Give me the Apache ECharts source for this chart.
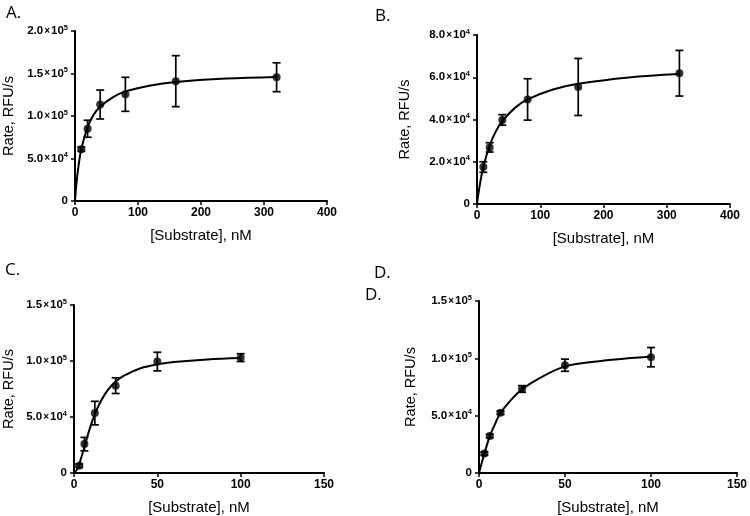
<!DOCTYPE html>
<html>
<head>
<meta charset="utf-8">
<script src="https://cdn.jsdelivr.net/npm/echarts@6/dist/echarts.min.js"></script>
<style>
html,body{margin:0;padding:0;background:#fff;}
#chart{width:750px;height:516px;}
</style>
</head>
<body>
<div id="chart"></div>
<script>
// ---- data ----
var panelLabels = ['A.', 'B.', 'C.', 'D.'];
var xTitle = '[Substrate], nM';
var yTitle = 'Rate, RFU/s';

var xA = [10, 20, 40, 80, 160, 320];
var yA = [61000, 85000, 113500, 125500, 141000, 145600];
var errA = [2500, 10000, 17000, 20000, 30000, 17000];
var curveXA = [0, 2, 5, 10, 20, 30, 40, 60, 80, 120, 160, 240, 320];
var curveYA = [0, 18000, 38000, 61000, 87000, 102000, 111000, 122000, 129000, 136000, 140000, 144000, 146000];

var xB = [10, 20, 40, 80, 160, 320];
var yB = [17500, 26800, 39800, 49500, 55400, 61900];
var errB = [2500, 2200, 2500, 9800, 13500, 10800];
var curveXB = [0, 2, 5, 10, 20, 30, 40, 60, 80, 120, 160, 240, 320];
var curveYB = [0, 4400, 10000, 17500, 27700, 34500, 39200, 45500, 49500, 54200, 56900, 59900, 61500];

var xC = [3.125, 6.25, 12.5, 25, 50, 100];
var yC = [6500, 25800, 53500, 78000, 99500, 103000];
var errC = [1500, 6000, 10500, 7000, 8300, 3500];
var curveXC = [0, 2, 4, 6, 8, 10, 12.5, 15, 20, 25, 30, 40, 50, 60, 80, 100];
var curveYC = [0, 3700, 12000, 22100, 32500, 42100, 52500, 61000, 73500, 81600, 87000, 93500, 97000, 99100, 101400, 102600];

var xD = [3.125, 6.25, 12.5, 25, 50, 100];
var yD = [16900, 32300, 52600, 73300, 94000, 101000];
var errD = [1500, 1500, 1500, 2900, 5300, 8400];
var curveXD = [0, 3.125, 6.25, 10, 12.5, 20, 25, 35, 50, 70, 100];
var curveYD = [0, 17000, 32000, 45000, 52500, 66000, 73000, 82500, 93000, 97500, 101500];

var xTicksAB = [0, 100, 200, 300, 400];
var xTicksCD = [0, 50, 100, 150];
var yTicksA = [0, 50000, 100000, 150000, 200000];
var yTickLabelsA = ['0', '5.0×10^4', '1.0×10^5', '1.5×10^5', '2.0×10^5'];
var yTicksB = [0, 20000, 40000, 60000, 80000];
var yTickLabelsB = ['0', '2.0×10^4', '4.0×10^4', '6.0×10^4', '8.0×10^4'];
var yTicksCD = [0, 50000, 100000, 150000];
var yTickLabelsCD = ['0', '5.0×10^4', '1.0×10^5', '1.5×10^5'];

// ---- build ----
function zip(a, b) { return a.map(function (v, i) { return [v, b[i]]; }); }
function richLabel(ticks, labels) {
  return function (v) {
    var i = ticks.indexOf(v);
    if (i < 0) return '';
    var s = labels[i].split('^');
    if (s.length === 1) return '{m|' + s[0] + '}';
    var p = s[0].split('×');
    return '{m|' + p[0] + '}{x|×}{m|' + p[1] + '}{e|' + s[1] + '}';
  };
}
var FONT = 'Liberation Sans, Arial, sans-serif';
var grids = [
  {left: 72, top: 31, width: 255, height: 170},
  {left: 477, top: 35, width: 253, height: 169},
  {left: 70, top: 305, width: 254, height: 168},
  {left: 479, top: 301, width: 258, height: 172}
];
var panels = [
  {x: xA, y: yA, e: errA, cx: curveXA, cy: curveYA, xmax: 400, xint: 100, xt: xTicksAB, yt: yTicksA, yl: yTickLabelsA, yint: 50000, ymax: 200000, gap: 59},
  {x: xB, y: yB, e: errB, cx: curveXB, cy: curveYB, xmax: 400, xint: 100, xt: xTicksAB, yt: yTicksB, yl: yTickLabelsB, yint: 20000, ymax: 80000, gap: 65},
  {x: xC, y: yC, e: errC, cx: curveXC, cy: curveYC, xmax: 150, xint: 50, xt: xTicksCD, yt: yTicksCD, yl: yTickLabelsCD, yint: 50000, ymax: 150000, gap: 58},
  {x: xD, y: yD, e: errD, cx: curveXD, cy: curveYD, xmax: 150, xint: 50, xt: xTicksCD, yt: yTicksCD, yl: yTickLabelsCD, yint: 50000, ymax: 150000, gap: 61}
];
var xAxes = [], yAxes = [], series = [];
panels.forEach(function (p, k) {
  xAxes.push({
    gridIndex: k, type: 'value', min: 0, max: p.xmax, interval: p.xint,
    name: xTitle, nameLocation: 'middle', nameGap: 27,
    nameTextStyle: {fontFamily: FONT, fontSize: 15, color: '#000'},
    axisLine: {show: true, onZero: false, lineStyle: {color: '#000', width: 2}},
    axisTick: {show: true, length: 4, lineStyle: {color: '#000', width: 1.5}},
    axisLabel: {margin: 6, fontFamily: FONT, fontSize: 12, fontWeight: 'bold', color: '#000'},
    splitLine: {show: false}
  });
  yAxes.push({
    gridIndex: k, type: 'value', min: 0, max: p.ymax, interval: p.yint,
    name: yTitle, nameLocation: 'middle', nameGap: p.gap,
    nameTextStyle: {fontFamily: FONT, fontSize: 14.5, color: '#000'},
    axisLine: {show: true, onZero: false, lineStyle: {color: '#000', width: 2}},
    axisTick: {show: true, length: 4, lineStyle: {color: '#000', width: 1.5}},
    axisLabel: {
      margin: 7, formatter: richLabel(p.yt, p.yl),
      rich: {
        m: {fontFamily: FONT, fontSize: 11.5, fontWeight: 'bold', color: '#000'},
        x: {fontFamily: FONT, fontSize: 10, fontWeight: 'bold', color: '#000', padding: [0, 1, 0, 1]},
        e: {fontFamily: FONT, fontSize: 7.5, fontWeight: 'bold', color: '#000', padding: [0, 0, 7, 0]}
      }
    },
    splitLine: {show: false}
  });
  series.push({
    type: 'line', xAxisIndex: k, yAxisIndex: k, data: zip(p.cx, p.cy),
    smooth: 0.35, showSymbol: false, symbol: 'none',
    lineStyle: {color: '#000', width: 2}, z: 2, silent: true
  });
  series.push({
    type: 'custom', xAxisIndex: k, yAxisIndex: k,
    data: p.x.map(function (v, i) { return [v, p.y[i] - p.e[i], p.y[i] + p.e[i]]; }),
    renderItem: function (params, api) {
      var lo = api.coord([api.value(0), api.value(1)]);
      var hi = api.coord([api.value(0), api.value(2)]);
      var w = 4;
      var st = {stroke: '#000', lineWidth: 1.7};
      return {type: 'group', children: [
        {type: 'line', shape: {x1: lo[0], y1: lo[1], x2: hi[0], y2: hi[1]}, style: st},
        {type: 'line', shape: {x1: lo[0] - w, y1: lo[1], x2: lo[0] + w, y2: lo[1]}, style: st},
        {type: 'line', shape: {x1: hi[0] - w, y1: hi[1], x2: hi[0] + w, y2: hi[1]}, style: st}
      ]};
    },
    z: 3, silent: true
  });
  series.push({
    type: 'scatter', xAxisIndex: k, yAxisIndex: k, data: zip(p.x, p.y),
    symbol: 'circle', symbolSize: 8, itemStyle: {color: '#000'}, z: 4, silent: true
  });
});

var titleStyle = {fontFamily: 'Open Sans, Liberation Sans, sans-serif', fontSize: 17, fontWeight: 'normal', color: '#000'};
var chart = echarts.init(document.getElementById('chart'), null, {renderer: 'canvas'});
chart.setOption({
  animation: false,
  backgroundColor: '#fff',
  title: [
    {text: panelLabels[0], left: 1, top: 0, textStyle: titleStyle},
    {text: panelLabels[1], left: 370, top: 3, textStyle: titleStyle},
    {text: panelLabels[2], left: 0, top: 257, textStyle: titleStyle},
    {text: panelLabels[3], left: 369, top: 260, textStyle: titleStyle},
    {text: panelLabels[3], left: 360, top: 282, textStyle: titleStyle}
  ],
  grid: grids,
  xAxis: xAxes,
  yAxis: yAxes,
  series: series
});
</script>
</body>
</html>
